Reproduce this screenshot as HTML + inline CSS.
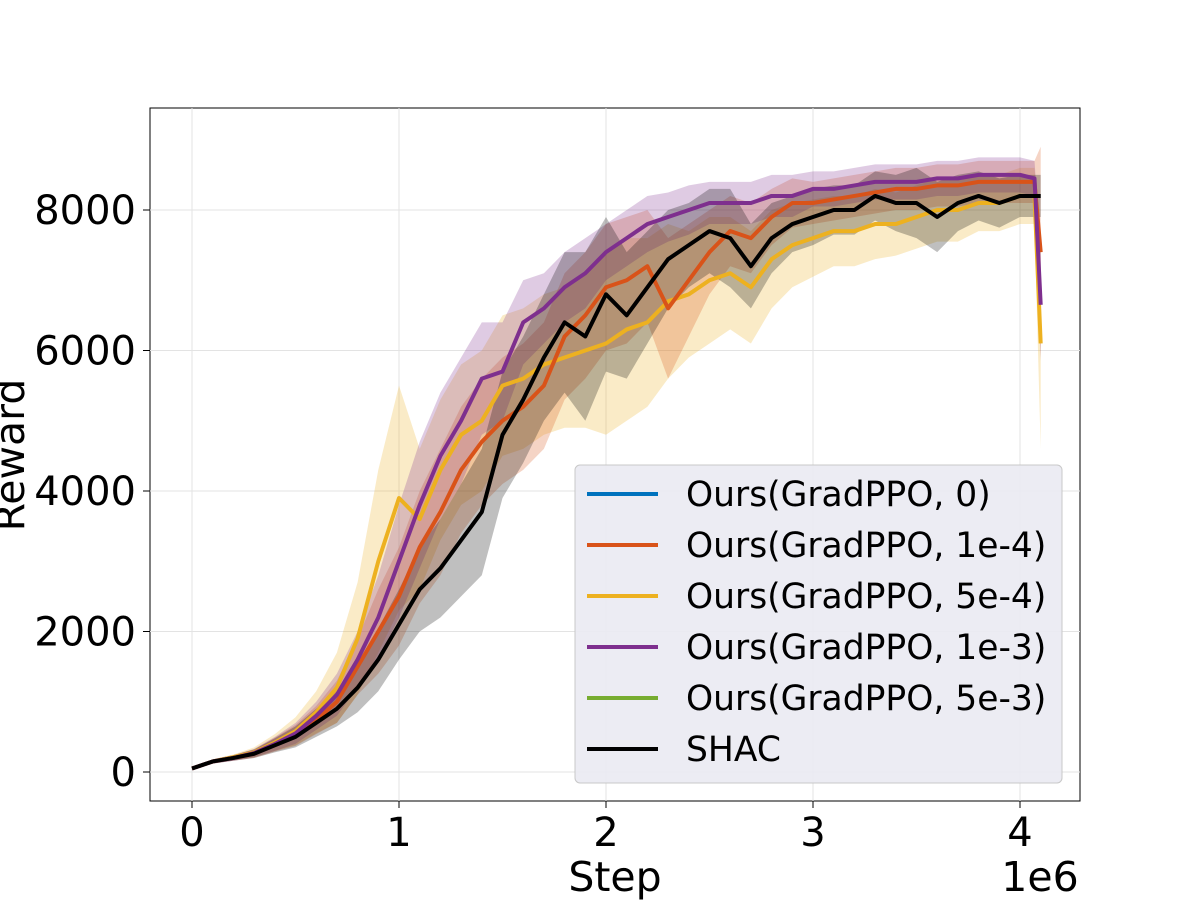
<!DOCTYPE html>
<html><head><meta charset="utf-8"><style>
body{margin:0;background:#fff;}
svg text{font-family:"DejaVu Sans","Liberation Sans",sans-serif;fill:#000;}
</style></head><body>
<svg id="chart" width="1200" height="900">
<rect x="150" y="108" width="930" height="693" fill="#fff" stroke="#000" stroke-width="1"/>
<g id="grid"></g><g id="bands"></g><g id="lines"></g><g id="axes"></g><g id="legend"></g>
</svg>
<script>
const steps = [0,0.1,0.2,0.3,0.4,0.5,0.6,0.7,0.8,0.9,1.0,1.1,1.2,1.3,1.4,1.5,1.6,1.7,1.8,1.9,2.0,2.1,2.2,2.3,2.4,2.5,2.6,2.7,2.8,2.9,3.0,3.1,3.2,3.3,3.4,3.5,3.6,3.7,3.8,3.9,4.0,4.07,4.1];
const shac = [50,150,200,260,380,500,700,900,1200,1600,2100,2600,2900,3300,3700,4800,5300,5900,6400,6200,6800,6500,6900,7300,7500,7700,7600,7200,7600,7800,7900,8000,8000,8200,8100,8100,7900,8100,8200,8100,8200,8200,8200];
const shacSpread = [20,30,40,60,100,150,200,250,350,450,500,600,700,800,900,900,900,900,1000,1200,1100,900,800,700,600,600,700,600,500,400,400,350,350,350,400,500,500,400,350,350,300,300,300];
const purple = [50,150,200,270,400,550,800,1100,1600,2200,3000,3800,4500,5000,5600,5700,6400,6600,6900,7100,7400,7600,7800,7900,8000,8100,8100,8100,8200,8200,8300,8300,8350,8400,8400,8400,8450,8450,8500,8500,8500,8450,6650];
const purpleSpread = [20,30,40,60,100,150,200,300,400,600,800,900,900,900,800,700,600,500,500,500,400,400,400,350,350,300,300,300,300,300,250,250,250,250,250,250,250,250,250,250,250,250,800];
const orange = [50,150,200,260,390,520,740,1000,1500,2000,2500,3200,3700,4300,4700,5000,5200,5500,6200,6500,6900,7000,7200,6600,7000,7400,7700,7600,7900,8100,8100,8150,8200,8250,8300,8300,8350,8350,8400,8400,8400,8400,7400];
const orangeSpread = [20,30,40,60,100,150,200,300,400,600,700,800,900,900,900,900,900,900,900,900,900,900,800,1000,800,600,500,500,400,350,300,300,300,300,300,300,300,300,300,300,300,300,1500];
const yellow = [50,150,210,280,420,580,850,1200,1900,3000,3900,3600,4300,4800,5000,5500,5600,5800,5900,6000,6100,6300,6400,6700,6800,7000,7100,6900,7300,7500,7600,7700,7700,7800,7800,7900,8000,8000,8100,8100,8200,8200,6100];
const yellowSpread = [20,30,40,70,120,200,300,500,800,1300,1600,1000,1000,1000,1000,1000,1000,1000,1000,1100,1300,1300,1200,1100,900,900,800,800,700,600,550,500,500,500,450,450,450,450,400,400,400,400,1500];
const xTicks = [0,1,2,3,4];
const yTicks = [0,2000,4000,6000,8000];
const legendLabels = ["Ours(GradPPO, 0)","Ours(GradPPO, 1e-4)","Ours(GradPPO, 5e-4)","Ours(GradPPO, 1e-3)","Ours(GradPPO, 5e-3)","SHAC"];
const legendColors = ["#0072bd","#d95319","#edb120","#7e2f8e","#77ac30","#000000"];

const NS="http://www.w3.org/2000/svg";
const X=v=>192+v*207;
const Y=v=>772-v*(562/8000);
function mk(tag,attrs,parent){const e=document.createElementNS(NS,tag);for(const k in attrs)e.setAttribute(k,attrs[k]);document.getElementById(parent).appendChild(e);return e;}

xTicks.forEach(t=>{
  const g=mk('line',{x1:X(t),x2:X(t),y1:108,y2:801,stroke:'#e3e3e3','stroke-width':1},'grid');
  
  
  const tk=mk('line',{x1:X(t),x2:X(t),y1:801,y2:808,stroke:'#000'},'axes');
  
  
  const tx=mk('text',{x:X(t),y:846,'font-size':40,'text-anchor':'middle'},'axes');tx.textContent=t;
  
  
});
yTicks.forEach(t=>{
  const g=mk('line',{x1:150,x2:1080,y1:Y(t),y2:Y(t),stroke:'#e3e3e3','stroke-width':1},'grid');
  
  
  const tk=mk('line',{x1:143,x2:150,y1:Y(t),y2:Y(t),stroke:'#000'},'axes');
  
  
  const tx=mk('text',{x:136,y:Y(t)+14,'font-size':40,'text-anchor':'end'},'axes');tx.textContent=t;
  
  
});
const xl=mk('text',{x:615,y:891,'font-size':41,'text-anchor':'middle'},'axes');xl.textContent='Step';


const ex=mk('text',{x:1040,y:891,'font-size':41,'text-anchor':'middle'},'axes');ex.textContent='1e6';


const yl=mk('text',{x:24,y:455,'font-size':41,'text-anchor':'middle',transform:'rotate(-90 24 455)'},'axes');yl.textContent='Reward';



function series(vals,spread,color,name){
  const up=steps.map((s,i)=>X(s)+','+Y(vals[i]+spread[i]));
  const lo=steps.map((s,i)=>X(s)+','+Y(vals[i]-spread[i])).reverse();
  const b=mk('polygon',{points:up.concat(lo).join(' '),fill:color,'fill-opacity':0.25,stroke:'none'},'bands');
  
  
  const l=mk('polyline',{points:steps.map((s,i)=>X(s)+','+Y(vals[i])).join(' '),fill:'none',stroke:color,'stroke-width':4,'stroke-linejoin':'round'},'lines');
  
  
}
series(yellow,yellowSpread,'#edb120','gradppo-5e-4');
series(orange,orangeSpread,'#d95319','gradppo-1e-4');
series(purple,purpleSpread,'#7e2f8e','gradppo-1e-3');
series(shac,shacSpread,'#000000','shac');

const box=mk('rect',{x:575,y:465,width:487,height:318,rx:5,fill:'#eaeaf2','fill-opacity':0.9,stroke:'#c8c8c8'},'legend');


legendLabels.forEach((lab,i)=>{
  const y=494+i*51;
  const ln=mk('line',{x1:587,x2:658,y1:y,y2:y,stroke:legendColors[i],'stroke-width':4},'legend');
  
  
  const t=mk('text',{x:686,y:y+12,'font-size':34.5},'legend');t.textContent=lab;
  
  
});
</script>
</body></html>
